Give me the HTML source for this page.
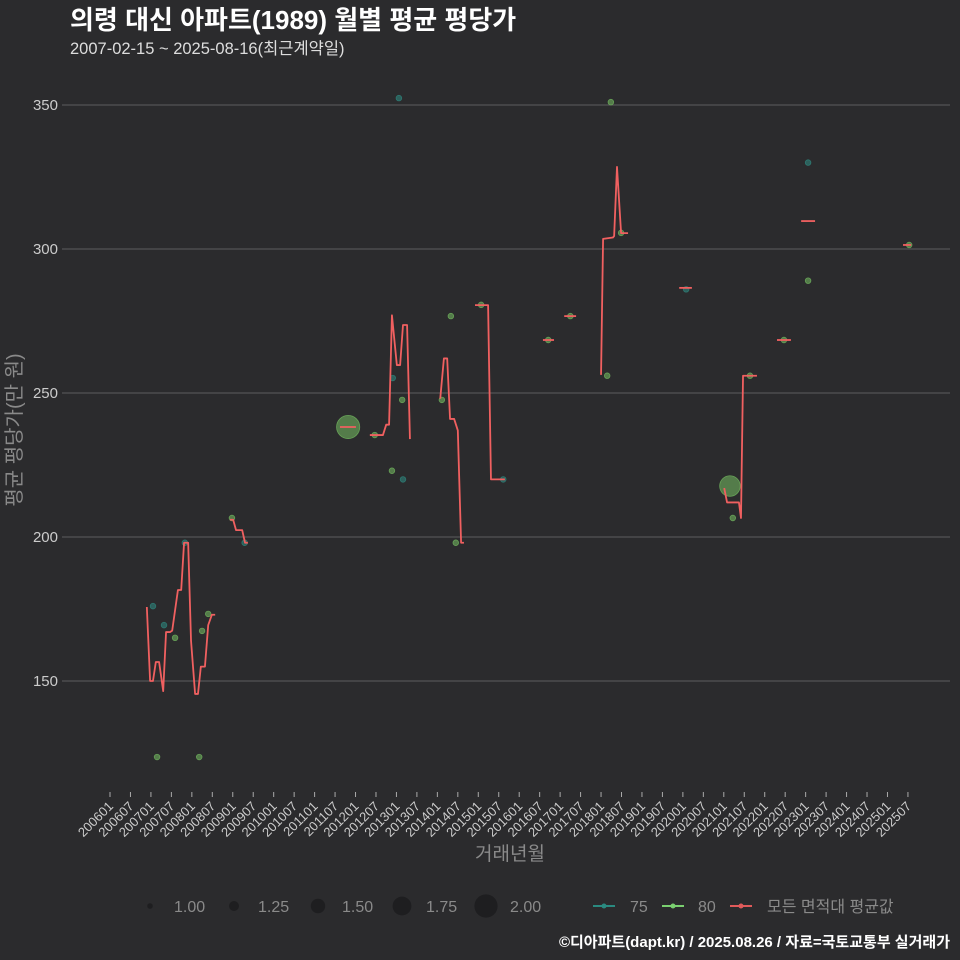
<!DOCTYPE html>
<html><head><meta charset="utf-8">
<style>
html,body{margin:0;padding:0;background:#2b2b2d;}
svg{display:block;font-family:"Liberation Sans","Noto Sans CJK KR",sans-serif;}
</style></head>
<body>
<svg id="chart" width="960" height="960" viewBox="0 0 960 960">
<rect x="0" y="0" width="960" height="960" fill="#2b2b2d"/>
<text x="70" y="29" fill="#ffffff" font-size="26" font-weight="bold">의령 대신 아파트(1989) 월별 평균 평당가</text>
<text x="70" y="54" fill="#dddddd" font-size="16.5">2007-02-15 ~ 2025-08-16(최근계약일)</text>
<g id="grid"></g>
<g id="yticks"></g>
<g id="xticks"></g>
<g id="marks"></g>
<text transform="translate(21,430) rotate(-90)" text-anchor="middle" fill="#8a8a8a" font-size="20">평균 평당가(만 원)</text>
<text x="510" y="860" text-anchor="middle" fill="#8a8a8a" font-size="19">거래년월</text>
<g id="legend"></g>
<text x="950" y="947" text-anchor="end" fill="#ffffff" font-size="15" font-weight="bold">©디아파트(dapt.kr) / 2025.08.26 / 자료=국토교통부 실거래가</text>
</svg>
<script>
const yTicks = [150, 200, 250, 300, 350];
const xTickLabels = [];
for (let y = 2006; y <= 2025; y++) { xTickLabels.push(y + "01"); xTickLabels.push(y + "07"); }
// mean line segments: decimal year, value
const lineSegments = [
 [[2006.90,175.7],[2006.98,150],[2007.05,150],[2007.12,156.6],[2007.20,156.6],[2007.30,146.5],[2007.37,167],[2007.47,167],[2007.52,167.5],[2007.66,181.6],[2007.74,181.6],[2007.81,198],[2007.91,198],[2007.98,164],[2008.08,145.5],[2008.15,145.5],[2008.22,155],[2008.32,155],[2008.40,169.4],[2008.49,173],[2008.57,173]],
 [[2008.93,206],[2009.01,206],[2009.08,202.4],[2009.23,202.4],[2009.30,198],[2009.37,198]],
 [[2011.62,238.2],[2012.01,238.2]],
 [[2012.35,235.4],[2012.67,235.4],[2012.75,239],[2012.82,239],[2012.89,277],[2013.01,259.7],[2013.09,259.7],[2013.16,273.6],[2013.26,273.6],[2013.33,234]],
 [[2014.07,248],[2014.16,262],[2014.24,262],[2014.31,241],[2014.41,241],[2014.50,237],[2014.58,198],[2014.65,198]],
 [[2014.92,280.5],[2015.24,280.5],[2015.31,220],[2015.65,220]],
 [[2016.58,268.4],[2016.85,268.4]],
 [[2017.10,276.7],[2017.39,276.7]],
 [[2018.00,256.3],[2018.05,303.5],[2018.29,304],[2018.32,304.5],[2018.39,328.5],[2018.49,305.5],[2018.66,305.5]],
 [[2019.91,286.5],[2020.22,286.5]],
 [[2021.01,217],[2021.08,212],[2021.35,212],[2021.37,212],[2021.42,206.6],[2021.47,256],[2021.81,256]],
 [[2022.30,268.4],[2022.64,268.4]],
 [[2022.89,309.7],[2023.23,309.7]],
 [[2025.38,301.4],[2025.58,301.4]]
];
// scatter points (area 75 / 80): decimal year, value, size
const pts75Year = [2007.05,2007.32,2007.83,2009.29,2012.91,2013.06,2013.16,2015.61,2020.08,2023.06];
const pts75Val  = [176,169.4,198,198,255.2,352.4,220,220,286,330];
const pts75Size = [1,1,1,1,1,1,1,1,1,1];
const pts80Year = [2007.15,2007.59,2008.18,2008.25,2008.40,2008.98,2011.82,2012.47,2012.89,2013.14,2014.11,2014.33,2014.45,2015.07,2016.71,2017.25,2018.15,2018.24,2018.49,2021.15,2021.22,2021.64,2022.47,2023.06,2025.53];
const pts80Val  = [123.6,165,123.6,167.4,173.3,206.6,238.2,235.4,223,247.6,247.6,276.7,198,280.6,268.4,276.7,256,351,305.6,217.7,206.6,256,268.4,289,301.4];
const pts80Size = [1,1,1,1,1,1,2,1,1,1,1,1,1,1,1,1,1,1,1,1.85,1,1,1,1,1];
const sizeLegend = [1.00,1.25,1.50,1.75,2.00];

const NS = "http://www.w3.org/2000/svg";
const X = yr => 110 + (yr - 2006) * 40.92;
const Y = v => 681 - (v - 150) * 2.88;
const R = s => 2.8 + (s - 1) * 8.8;
function mk(tag, attrs, parent){ const e=document.createElementNS(NS,tag); for(const k in attrs) e.setAttribute(k,attrs[k]); parent.appendChild(e); return e; }

const grid=document.getElementById('grid'), yt=document.getElementById('yticks'), xt=document.getElementById('xticks'), marks=document.getElementById('marks'), lg=document.getElementById('legend');
yTicks.forEach(v=>{
  const l=mk('line',{x1:62,x2:950,y1:Y(v),y2:Y(v),stroke:'#5e5e5e','stroke-width':1},grid);
  
  
  const t=mk('text',{x:58,y:Y(v)+5,'text-anchor':'end',fill:'#cccccc','font-size':15},yt);
  t.textContent=v;
  
  
});
xTickLabels.forEach((lab,i)=>{
  const yr=+lab.slice(0,4)+(lab.slice(4)==='07'?0.5:0);
  const x=X(yr);
  const tk=mk('line',{x1:x,x2:x,y1:792,y2:797,stroke:'#aaaaaa','stroke-width':1},xt);
  
  
  const t=mk('text',{transform:`translate(${x+4},${807}) rotate(-45)`,'text-anchor':'end',fill:'#cccccc','font-size':13},xt);
  t.textContent=lab;
  
  
});
function drawPts(years,vals,sizes,color,name){
  years.forEach((yr,i)=>{
    const c=mk('circle',{cx:X(yr),cy:Y(vals[i]),r:R(sizes[i]),fill:color,'fill-opacity':0.65,stroke:color,'stroke-opacity':0.9,'stroke-width':0.8},marks);
    
    
  });
}
drawPts(pts75Year,pts75Val,pts75Size,'#2e7d76','area-75');
drawPts(pts80Year,pts80Val,pts80Size,'#6aa85a','area-80');
lineSegments.forEach((seg,i)=>{
  const p=mk('polyline',{points:seg.map(d=>X(d[0])+','+Y(d[1])).join(' '),fill:'none',stroke:'#f06060','stroke-width':1.8,'stroke-linejoin':'round'},marks);
  
  
});
// legend
const sx=[150,234,318,402,486];
sizeLegend.forEach((s,i)=>{
  const c=mk('circle',{cx:sx[i],cy:906,r:R(s),fill:'#1e1e20'},lg);
  
  
  const t=mk('text',{x:sx[i]+24,y:912,fill:'#8a8a8a','font-size':16},lg);
  t.textContent=s.toFixed(2);
  
  
});
[['75','#2a8a80',593,630],['80','#7ad070',662,698],['모든 면적대 평균값','#e05a5a',730,767]].forEach(d=>{
  const l=mk('line',{x1:d[2],x2:d[2]+22,y1:906,y2:906,stroke:d[1],'stroke-width':2},lg);
  
  
  const c=mk('circle',{cx:d[2]+11,cy:906,r:2.5,fill:d[1]},lg);
  
  
  const t=mk('text',{x:d[3],y:912,fill:'#8a8a8a','font-size':16},lg);
  t.textContent=d[0];
  
  
});
</script>
</body></html>
